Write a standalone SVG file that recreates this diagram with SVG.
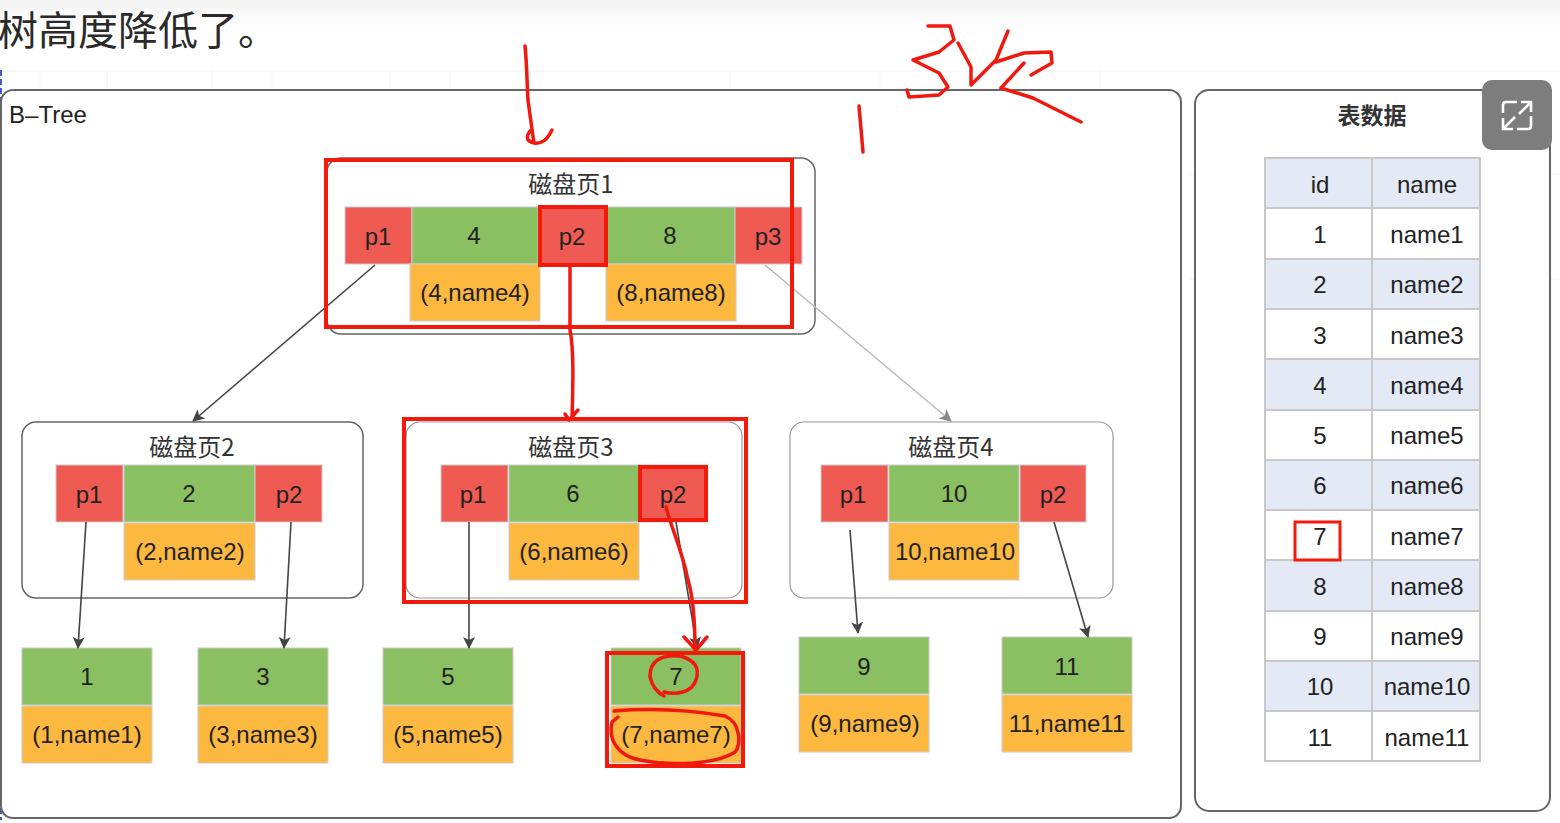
<svg xmlns="http://www.w3.org/2000/svg" width="1560" height="823" viewBox="0 0 1560 823">
<defs>
<linearGradient id="topfade" x1="0" y1="0" x2="0" y2="1"><stop offset="0" stop-color="#f3f3f3"/><stop offset="1" stop-color="#ffffff"/></linearGradient>
<marker id="arr" markerUnits="userSpaceOnUse" markerWidth="14" markerHeight="14" refX="11" refY="6" orient="auto"><path d="M0 0L12 6L0 12L3 6Z" fill="#444"/></marker>
<marker id="arrL" markerUnits="userSpaceOnUse" markerWidth="14" markerHeight="14" refX="11" refY="6" orient="auto"><path d="M0 0L12 6L0 12L3 6Z" fill="#888"/></marker>
</defs>
<style>
text{font-family:"Liberation Sans","Noto Sans CJK SC",sans-serif;fill:#222;text-anchor:middle;dominant-baseline:central;font-size:24px;transform:translateY(-1px)}
.zh{font-family:"Noto Sans CJK SC","Liberation Sans",sans-serif;fill:#333;transform:translateY(-2px)}
.panel{fill:#fff;stroke:#666;stroke-width:2}
.page{fill:#fff;stroke:#666;stroke-width:1.5}
.pageL{fill:#fff;stroke:#999;stroke-width:1.2}
.r{fill:#ef5a52;stroke:#ccc;stroke-width:1}
.g{fill:#8abf62;stroke:#ccc;stroke-width:1}
.o{fill:#fdb83f;stroke:#ccc;stroke-width:1}
.th{fill:#e3e9f5;stroke:#c8c8c8;stroke-width:2}
.td{fill:#fff;stroke:#c8c8c8;stroke-width:2}
.c{fill:none;stroke:#444;stroke-width:1.6;marker-end:url(#arr)}
.ink{fill:none;stroke:#f0190f;stroke-width:3.5;stroke-linecap:round;stroke-linejoin:round}
.box{fill:none;stroke:#f31a0c;stroke-width:4}
</style>
<rect width="1560" height="823" fill="#fff"/>
<rect width="1560" height="28" fill="url(#topfade)"/>
<g stroke="#f1f1f1" stroke-width="1"><path d="M0 71H1560M1190 174H1560M1190 279H1560M40 70V88M107 70V88M212 70V88M272 70V88M390 70V88M450 70V88M730 70V88M880 70V88M1100 70V88"/></g>
<path d="M1 70V820" stroke="#3a5fd0" stroke-width="2" stroke-dasharray="6 3" fill="none"/>
<text id="heading" class="zh" x="-2" y="30" style="text-anchor:start;font-size:40px;fill:#2a2a2a">树高度降低了。</text>

<g id="btree"><rect class="panel" x="1" y="90" width="1180" height="728" rx="12"/><text x="48" y="115" style="font-size:24px">B–Tree</text></g>
<g id="table-panel"><rect class="panel" x="1195" y="90" width="355" height="721" rx="14"/><text class="zh" x="1372" y="116" style="font-weight:700;font-size:23px">表数据</text></g>

<g id="page1"><rect class="page" x="327" y="158" width="488" height="176" rx="14"/><text class="zh" x="571" y="184">磁盘页1</text>
<rect class="r" x="345" y="207" width="67" height="57"/><text x="378" y="237">p1</text>
<rect class="g" x="412" y="207" width="126" height="57"/><text x="474" y="236">4</text>
<rect class="r" x="539" y="207" width="67" height="57"/><text x="572" y="237">p2</text>
<rect class="g" x="606" y="207" width="129" height="57"/><text x="670" y="236">8</text>
<rect class="r" x="735" y="207" width="67" height="57"/><text x="768" y="237">p3</text>
<rect class="o" x="410" y="264" width="130" height="57"/><text x="475" y="293">(4,name4)</text>
<rect class="o" x="606" y="264" width="130" height="57"/><text x="671" y="293">(8,name8)</text></g>

<g id="page2"><rect class="page" x="22" y="422" width="341" height="176" rx="14"/><text class="zh" x="192" y="447">磁盘页2</text>
<rect class="r" x="56" y="465" width="67" height="57"/><text x="89" y="495">p1</text>
<rect class="g" x="124" y="465" width="131" height="57"/><text x="189" y="494">2</text>
<rect class="r" x="255" y="465" width="67" height="57"/><text x="289" y="495">p2</text>
<rect class="o" x="124" y="523" width="131" height="57"/><text x="190" y="552">(2,name2)</text></g>

<g id="page3"><rect class="pageL" x="406" y="422" width="336" height="176" rx="14"/><text class="zh" x="571" y="447">磁盘页3</text>
<rect class="r" x="441" y="465" width="67" height="57"/><text x="473" y="495">p1</text>
<rect class="g" x="509" y="465" width="130" height="57"/><text x="573" y="494">6</text>
<rect class="r" x="640" y="465" width="67" height="57"/><text x="673" y="495">p2</text>
<rect class="o" x="509" y="523" width="130" height="57"/><text x="574" y="552">(6,name6)</text></g>

<g id="page4"><rect class="pageL" x="790" y="422" width="323" height="176" rx="14"/><text class="zh" x="951" y="447">磁盘页4</text>
<rect class="r" x="821" y="465" width="67" height="57"/><text x="853" y="495">p1</text>
<rect class="g" x="889" y="465" width="130" height="57"/><text x="954" y="494">10</text>
<rect class="r" x="1020" y="465" width="66" height="57"/><text x="1053" y="495">p2</text>
<rect class="o" x="889" y="523" width="130" height="57"/><text x="955" y="552">10,name10</text></g>

<g id="leaf1"><rect class="g" x="22" y="648" width="130" height="57"/><text x="87" y="677">1</text><rect class="o" x="22" y="706" width="130" height="57"/><text x="87" y="735">(1,name1)</text></g>
<g id="leaf3"><rect class="g" x="198" y="648" width="130" height="57"/><text x="263" y="677">3</text><rect class="o" x="198" y="706" width="130" height="57"/><text x="263" y="735">(3,name3)</text></g>
<g id="leaf5"><rect class="g" x="383" y="648" width="130" height="57"/><text x="448" y="677">5</text><rect class="o" x="383" y="706" width="130" height="57"/><text x="448" y="735">(5,name5)</text></g>
<g id="leaf7"><rect class="g" x="611" y="648" width="130" height="57"/><text x="676" y="677">7</text><rect class="o" x="611" y="706" width="130" height="57"/><text x="676" y="735">(7,name7)</text></g>
<g id="leaf9"><rect class="g" x="799" y="637" width="130" height="57"/><text x="864" y="667">9</text><rect class="o" x="799" y="695" width="130" height="57"/><text x="865" y="724">(9,name9)</text></g>
<g id="leaf11"><rect class="g" x="1002" y="637" width="130" height="57"/><text x="1067" y="667">11</text><rect class="o" x="1002" y="695" width="130" height="57"/><text x="1067" y="724">11,name11</text></g>

<g id="connectors">
<path class="c" d="M375 265L193 421"/>
<path class="c" style="stroke:#bbb;marker-end:url(#arrL)" d="M765 265L951 421"/>
<path class="c" d="M86 522L78 648"/>
<path class="c" d="M291 522L284 648"/>
<path class="c" d="M469 522V648"/>
<path class="c" d="M676 522L697 648"/>
<path class="c" d="M850 530L858 633"/>
<path class="c" d="M1054 522L1088 637"/>
</g>

<g id="table">
<g id="row0"><rect class="th" x="1265" y="158" width="107" height="50"/><rect class="th" x="1372" y="158" width="108" height="50"/><text x="1320" y="185">id</text><text x="1427" y="185">name</text></g>
<g id="row1"><rect class="td" x="1265" y="208" width="107" height="51"/><rect class="td" x="1372" y="208" width="108" height="51"/><text x="1320" y="235">1</text><text x="1427" y="235">name1</text></g>
<g id="row2"><rect class="th" x="1265" y="259" width="107" height="50"/><rect class="th" x="1372" y="259" width="108" height="50"/><text x="1320" y="285">2</text><text x="1427" y="285">name2</text></g>
<g id="row3"><rect class="td" x="1265" y="309" width="107" height="50"/><rect class="td" x="1372" y="309" width="108" height="50"/><text x="1320" y="336">3</text><text x="1427" y="336">name3</text></g>
<g id="row4"><rect class="th" x="1265" y="359" width="107" height="51"/><rect class="th" x="1372" y="359" width="108" height="51"/><text x="1320" y="386">4</text><text x="1427" y="386">name4</text></g>
<g id="row5"><rect class="td" x="1265" y="410" width="107" height="50"/><rect class="td" x="1372" y="410" width="108" height="50"/><text x="1320" y="436">5</text><text x="1427" y="436">name5</text></g>
<g id="row6"><rect class="th" x="1265" y="460" width="107" height="50"/><rect class="th" x="1372" y="460" width="108" height="50"/><text x="1320" y="486">6</text><text x="1427" y="486">name6</text></g>
<g id="row7"><rect class="td" x="1265" y="510" width="107" height="50"/><rect class="td" x="1372" y="510" width="108" height="50"/><text x="1320" y="537">7</text><text x="1427" y="537">name7</text></g>
<g id="row8"><rect class="th" x="1265" y="560" width="107" height="51"/><rect class="th" x="1372" y="560" width="108" height="51"/><text x="1320" y="587">8</text><text x="1427" y="587">name8</text></g>
<g id="row9"><rect class="td" x="1265" y="611" width="107" height="50"/><rect class="td" x="1372" y="611" width="108" height="50"/><text x="1320" y="637">9</text><text x="1427" y="637">name9</text></g>
<g id="row10"><rect class="th" x="1265" y="661" width="107" height="50"/><rect class="th" x="1372" y="661" width="108" height="50"/><text x="1320" y="687">10</text><text x="1427" y="687">name10</text></g>
<g id="row11"><rect class="td" x="1265" y="711" width="107" height="50"/><rect class="td" x="1372" y="711" width="108" height="50"/><text x="1320" y="738">11</text><text x="1427" y="738">name11</text></g>
</g>

<g id="expand-button"><rect x="1482" y="80" width="70" height="70" rx="10" fill="#7d7d7d"/>
<path d="M1503 113V105Q1503 102 1506 102H1517M1531 116V126Q1531 129 1528 129H1517M1521 102H1531V112M1531 102L1519 114M1503 118V129H1513M1503 129L1515 117" fill="none" stroke="#fff" stroke-width="2.6"/></g>

<g id="annotations">
<rect class="box" x="326" y="160" width="466" height="167"/>
<rect class="box" x="540" y="207" width="66" height="58"/>
<rect class="box" x="404" y="419" width="342" height="183"/>
<rect class="box" x="640" y="467" width="66" height="53"/>
<rect class="box" x="607" y="653" width="136" height="113"/>
<rect x="1295" y="522" width="45" height="38" fill="none" stroke="#f31a0c" stroke-width="3"/>
<path class="ink" d="M525 46C527 65 527 85 528 100C530 115 532 130 534 143M530 131C526 137 526 141 534 143C542 144 547 140 552 130"/>
<path class="ink" d="M570 266V330C574 350 573 385 572 418M578 410L569 420L565 414"/>
<path class="ink" d="M666 507C672 530 682 550 688 580C694 600 695 625 695 650M684 637L696 650L707 637"/>
<path class="ink" d="M680 656C660 654 650 662 650 676C652 688 660 694 664 696M664 692C675 695 692 693 696 680C700 668 695 660 680 656"/>
<path class="ink" d="M614 711C650 708 690 710 725 716C740 722 742 745 735 752C715 765 670 766 640 760C618 756 608 740 612 722L618 717"/>
<path class="ink" d="M859 106L863 152"/>
<path class="ink" d="M928 26H950L954 40L939 52L913 60L939 73L948 87L939 95L909 97L907 90"/>
<path class="ink" d="M958 43L971 67L971 85L996 60L1008 31"/>
<path class="ink" d="M996 62L1024 53L1051 52L1052 63L1031 75"/>
<path class="ink" d="M1024 63L1001 88L1033 98L1081 122"/>
</g>
</svg>
